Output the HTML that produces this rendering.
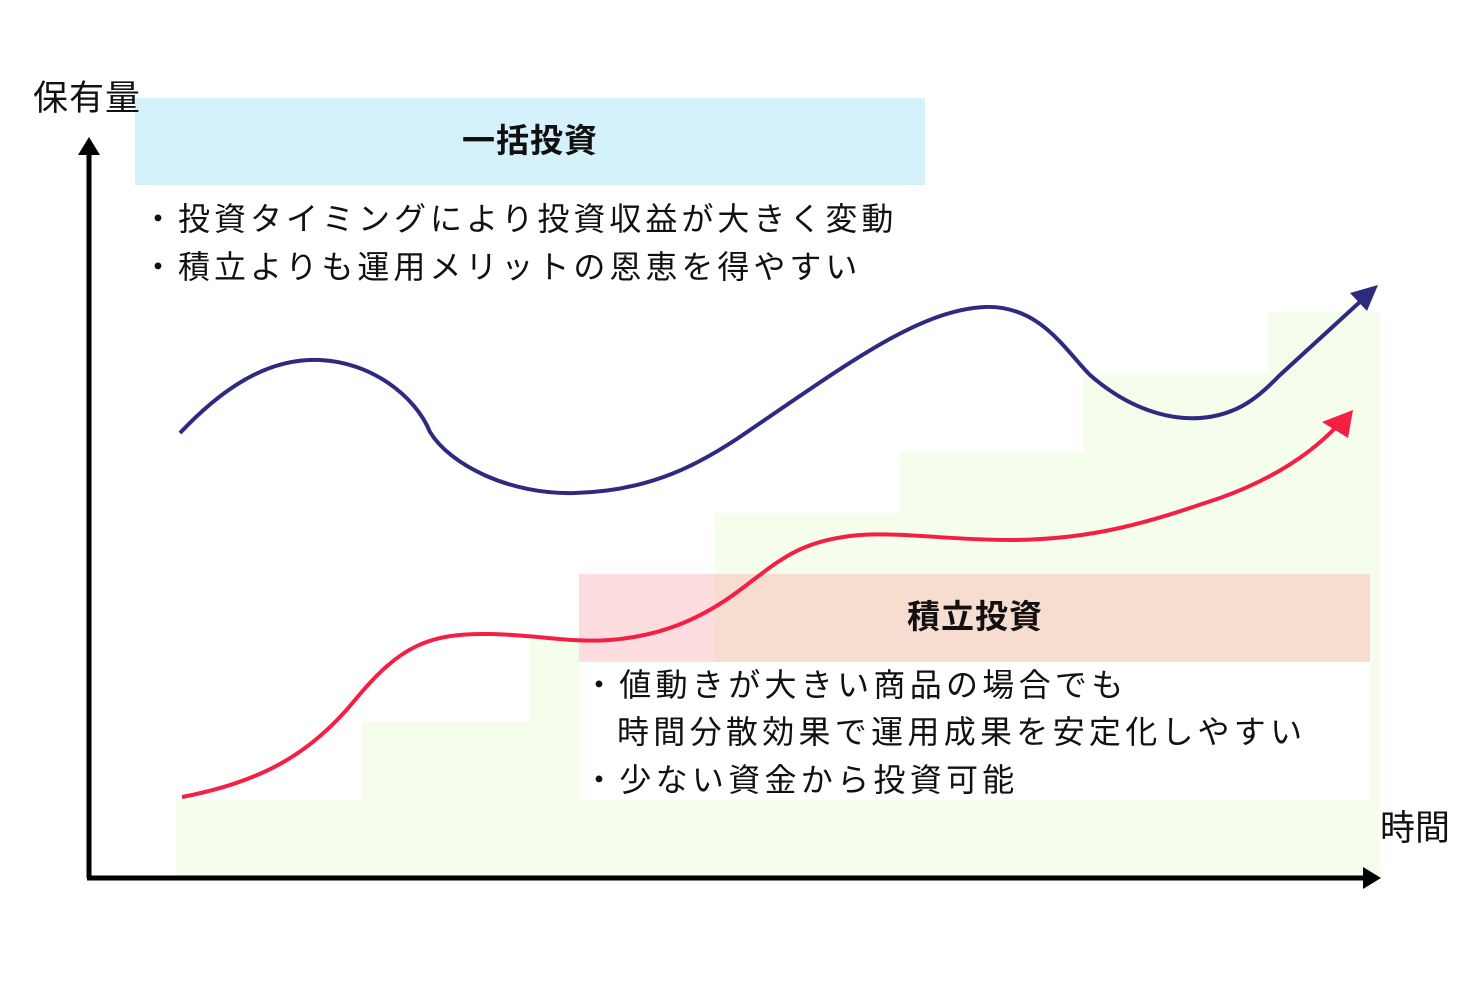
<!DOCTYPE html>
<html><head><meta charset="utf-8"><style>
body{margin:0;background:#fff;width:1478px;height:983px;overflow:hidden;font-family:"Liberation Sans","Noto Sans CJK JP",sans-serif}
svg{display:block}
</style></head><body>
<svg width="1478" height="983" viewBox="0 0 1478 983" xmlns="http://www.w3.org/2000/svg" font-family="'Liberation Sans','Noto Sans CJK JP',sans-serif">
<g fill="#f5fdec">
<rect x="176" y="800" width="190" height="78"/>
<rect x="362" y="722" width="186" height="156"/>
<rect x="530" y="640" width="190" height="238"/>
<rect x="715" y="513" width="190" height="365"/>
<rect x="900" y="452" width="186" height="426"/>
<rect x="1083" y="373" width="190" height="505"/>
<rect x="1268" y="312" width="112" height="566"/>
</g>
<rect x="135" y="98" width="790" height="87" fill="#d5f1fa"/>
<text x="530" y="152" font-size="33" font-weight="bold" text-anchor="middle" fill="#111" letter-spacing="1">一括投資</text>
<text x="142" y="230" font-size="32" fill="#111" letter-spacing="4">・投資タイミングにより投資収益が大きく変動</text>
<text x="142" y="278" font-size="32" fill="#111" letter-spacing="4">・積立よりも運用メリットの恩恵を得やすい</text>
<rect x="579" y="574" width="791" height="88" fill="#f7dcd0"/>
<rect x="579" y="574" width="136" height="88" fill="#fddde0"/>
<rect x="579" y="662" width="791" height="138" fill="#fff"/>
<text x="975" y="628" font-size="33" font-weight="bold" text-anchor="middle" fill="#111" letter-spacing="1">積立投資</text>
<text x="583" y="696" font-size="32" fill="#111" letter-spacing="4.3">・値動きが大きい商品の場合でも</text>
<text x="617" y="743" font-size="32" fill="#111" letter-spacing="4.3">時間分散効果で運用成果を安定化しやすい</text>
<text x="583" y="791" font-size="32" fill="#111" letter-spacing="4.3">・少ない資金から投資可能</text>
<path d="M180,433 C230,380 275,358 320,360 C370,362 415,395 430,432 C450,465 510,495 575,493 C650,491 700,465 750,430 C850,362 920,310 985,307 C1040,305 1065,350 1090,375 C1130,410 1170,420 1200,418 C1240,415 1260,395 1280,375 L1362,300" fill="none" stroke="#2e2a80" stroke-width="4"/>
<polygon points="1378,285 1350,293 1367,311" fill="#2e2a80"/>
<path d="M182,797 C260,782 310,755 355,700 C400,645 430,633 490,634 C540,635 570,643 610,640 C660,636 700,620 740,590 C780,560 800,540 860,535 C900,532 950,540 1010,540 C1100,540 1160,518 1220,498 C1270,480 1310,455 1338,425" fill="none" stroke="#f51f44" stroke-width="4"/>
<polygon points="1353,410 1322,422 1348,438" fill="#f51f44"/>
<line x1="89" y1="878" x2="89" y2="150" stroke="#000" stroke-width="5"/>
<polygon points="89,137 78,155 100,155" fill="#000"/>
<line x1="87" y1="878" x2="1368" y2="878" stroke="#000" stroke-width="5"/>
<polygon points="1381,878 1363,867 1363,889" fill="#000"/>
<text x="33" y="110" font-size="35" fill="#111" letter-spacing="1">保有量</text>
<text x="1380" y="840" font-size="35" fill="#111">時間</text>
</svg>
</body></html>
